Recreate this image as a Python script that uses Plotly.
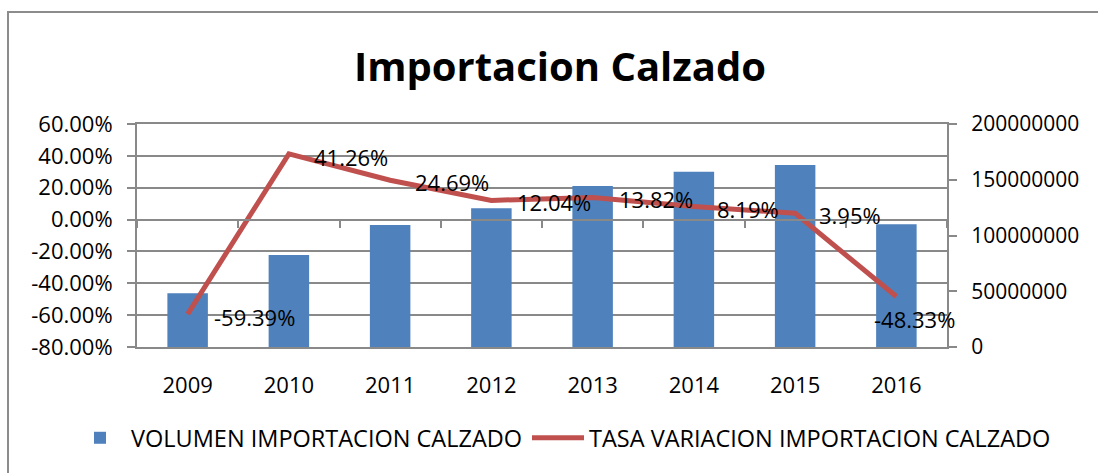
import plotly.graph_objects as go

years = ["2009", "2010", "2011", "2012", "2013", "2014", "2015", "2016"]
volumen = [48200000, 82500000, 109400000, 124400000, 144400000, 157200000, 163200000, 110000000]
tasa = [-59.39, 41.26, 24.69, 12.04, 13.82, 8.19, 3.95, -48.33]
tasa_labels = ["-59.39%", "41.26%", "24.69%", "12.04%", "13.82%", "8.19%", "3.95%", "-48.33%"]
pct_ticks = [-80, -60, -40, -20, 0, 20, 40, 60]
pct_ticktext = ["-80.00%", "-60.00%", "-40.00%", "-20.00%", "0.00%", "20.00%", "40.00%", "60.00%"]
vol_ticks = [0, 50000000, 100000000, 150000000, 200000000]
vol_ticktext = ["0", "50000000", "100000000", "150000000", "200000000"]

# label offsets (styling, px)
label_dx = [24, 23, 23, 24, 24, 21, 22, -24]
label_dy = [-3, -3, -2, -2, -1, -2, -2, -22]

FONT = "Open Sans"
GRAY = "#898989"

fig = go.Figure()
fig.add_trace(go.Bar(
    x=years, y=volumen, name="VOLUMEN IMPORTACION CALZADO",
    marker=dict(color="#4F81BD", line=dict(width=0)),
    xaxis="x", yaxis="y", legend="legend",
))
fig.add_trace(go.Scatter(
    x=years, y=tasa, name="TASA VARIACION IMPORTACION CALZADO",
    mode="lines", line=dict(color="#C0504D", width=5),
    xaxis="x2", yaxis="y2", legend="legend2",
))

# data labels: category index on the category axis
for i, (v, t, dx, dy) in enumerate(zip(tasa, tasa_labels, label_dx, label_dy)):
    fig.add_annotation(x=i, y=v, xref="x", yref="y2", text=t, showarrow=False,
                       xanchor="left", yanchor="middle", xshift=dx, yshift=dy,
                       font=dict(family=FONT, size=22, color="black"))

n = len(years)
leg_common = dict(orientation="h", xref="paper", yref="paper", y=(347 - 438) / 223,
                  xanchor="left", yanchor="middle", itemwidth=52,
                  font=dict(family=FONT, size=23.5, color="black"),
                  bgcolor="rgba(0,0,0,0)", borderwidth=0)
fig.update_layout(
    width=1098, height=473,
    margin=dict(l=137, r=151, t=124, b=126),
    paper_bgcolor="white", plot_bgcolor="white",
    font=dict(family=FONT, size=22, color="black"),
    title=dict(text="<b>Importacion Calzado</b>", x=0.51, y=1 - 67 / 473,
               xanchor="center", yanchor="middle", xref="container", yref="container",
               font=dict(family=FONT, size=40, color="black")),
    bargap=0.6,
    showlegend=True,
    legend=dict(x=(69 - 137) / 810, **leg_common),
    legend2=dict(x=(527 - 137) / 810, **leg_common),
    xaxis=dict(type="category", categoryorder="array", categoryarray=years,
               range=[-0.5, n - 0.5], showgrid=False, showline=True, mirror=True,
               linecolor=GRAY, linewidth=2, ticks="", ticklabelstandoff=18,
               tickfont=dict(family=FONT, size=22)),
    xaxis2=dict(type="category", categoryorder="array", categoryarray=years,
                range=[-0.5, n - 0.5], overlaying="x", anchor="free",
                position=80 / 140, showgrid=False, showline=True, linecolor=GRAY,
                linewidth=2, ticks="outside", tickson="boundaries", ticklen=7,
                tickcolor=GRAY, tickwidth=2, showticklabels=False),
    yaxis=dict(side="right", range=[0, 200000000], tickvals=vol_ticks, ticktext=vol_ticktext,
               showgrid=False, zeroline=False, showline=True, linecolor=GRAY, linewidth=2,
               ticks="outside", ticklen=8, tickcolor=GRAY, tickwidth=2,
               ticklabelstandoff=10, tickfont=dict(family=FONT, size=21)),
    yaxis2=dict(side="left", overlaying="y", anchor="x", range=[-80, 60],
                tickvals=pct_ticks, ticktext=pct_ticktext,
                showgrid=True, gridcolor=GRAY, gridwidth=2,
                zeroline=False, showline=True, linecolor=GRAY, linewidth=2,
                ticks="outside", ticklen=8, tickcolor=GRAY, tickwidth=2,
                ticklabelstandoff=10, tickfont=dict(family=FONT, size=22)),
    shapes=[dict(type="rect", xref="paper", yref="paper", x0=(8 - 137) / 810, x1=1.6,
                 y0=-1.2, y1=(347 - 12) / 223, line=dict(color="#8c8c8c", width=2),
                 fillcolor="rgba(0,0,0,0)", layer="below")],
)

fig.write_html("out.html", config={"displayModeBar": False},
               post_script="document.body.style.margin='0';document.body.style.overflow='hidden';")
